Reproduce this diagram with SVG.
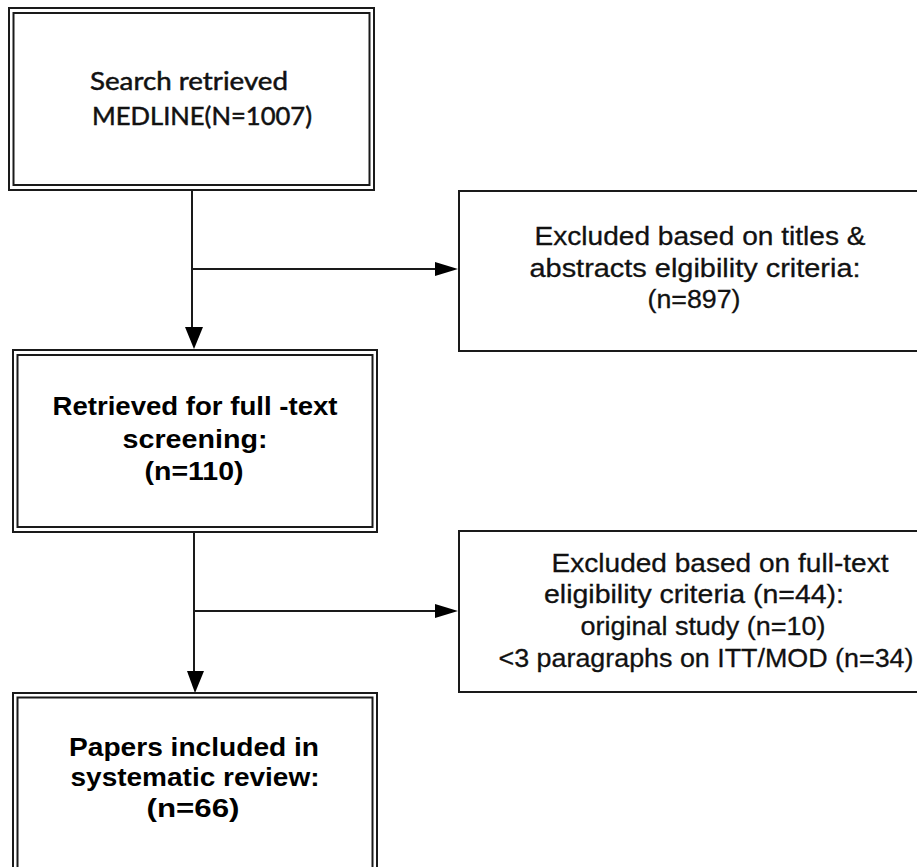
<svg xmlns="http://www.w3.org/2000/svg" width="917" height="867" viewBox="0 0 917 867">
<style>
.bx{fill:none;stroke:#1a1a1a;stroke-width:2}
.ln{fill:none;stroke:#1a1a1a;stroke-width:2}
.ah{fill:#000;stroke:none}
.t1{font-family:Lato,"Open Sans","Liberation Sans",sans-serif;font-size:25px;fill:#111;stroke:#111;stroke-width:0.5;text-anchor:middle}
.tb{font-family:"Liberation Sans",Arial,sans-serif;font-size:25px;font-weight:bold;fill:#000;text-anchor:middle}
.tr{font-family:"Liberation Sans",Arial,sans-serif;font-size:26px;fill:#111;stroke:#111;stroke-width:0.3;text-anchor:middle}
</style>
<rect width="917" height="867" fill="#fff"/>
<g id="connectors">
<path class="ln" d="M192 190 V328"/>
<path class="ah" d="M185 327 L203 327 L194 349 Z"/>
<path class="ln" d="M192 269 H437"/>
<path class="ah" d="M435 262 L458 269 L435 276 Z"/>
<path class="ln" d="M194 532 V672"/>
<path class="ah" d="M187 671 L204 671 L195 693 Z"/>
<path class="ln" d="M194 611 H437"/>
<path class="ah" d="M435 604 L458 611 L435 618 Z"/>
</g>
<g id="search">
<rect class="bx" x="9" y="8" width="365" height="182"/>
<rect class="bx" x="13.5" y="13" width="356" height="172"/>
<text class="t1" x="189" y="90" textLength="198" lengthAdjust="spacingAndGlyphs">Search retrieved</text>
<text class="t1" x="202" y="125" textLength="220" lengthAdjust="spacingAndGlyphs">MEDLINE(N=1007)</text>
</g>
<g id="excluded1">
<rect class="bx" x="459" y="191" width="480" height="160"/>
<text class="tr" x="700" y="245" textLength="331" lengthAdjust="spacingAndGlyphs">Excluded based on titles &amp;</text>
<text class="tr" x="695" y="277" textLength="331" lengthAdjust="spacingAndGlyphs">abstracts elgibility criteria:</text>
<text class="tr" x="694" y="308" textLength="93" lengthAdjust="spacingAndGlyphs">(n=897)</text>
</g>
<g id="fulltext">
<rect class="bx" x="13" y="350" width="364" height="182"/>
<rect class="bx" x="17.5" y="355" width="355" height="172"/>
<text class="tb" x="195" y="415" textLength="285" lengthAdjust="spacingAndGlyphs">Retrieved for full -text</text>
<text class="tb" x="195" y="448" textLength="145" lengthAdjust="spacingAndGlyphs">screening:</text>
<text class="tb" x="194" y="480" textLength="99" lengthAdjust="spacingAndGlyphs">(n=110)</text>
</g>
<g id="excluded2">
<rect class="bx" x="459" y="531" width="480" height="161"/>
<text class="tr" x="720" y="572" textLength="337" lengthAdjust="spacingAndGlyphs">Excluded based on full-text</text>
<text class="tr" x="694" y="603" textLength="300" lengthAdjust="spacingAndGlyphs">eligibility criteria (n=44):</text>
<text class="tr" x="703" y="635" textLength="245" lengthAdjust="spacingAndGlyphs">original study (n=10)</text>
<text class="tr" x="706" y="667" textLength="415" lengthAdjust="spacingAndGlyphs">&lt;3 paragraphs on ITT/MOD (n=34)</text>
</g>
<g id="included">
<rect class="bx" x="13" y="693" width="364" height="190"/>
<rect class="bx" x="17.5" y="697.5" width="355" height="180"/>
<text class="tb" x="194" y="756" textLength="250" lengthAdjust="spacingAndGlyphs">Papers included in</text>
<text class="tb" x="195" y="786" textLength="249" lengthAdjust="spacingAndGlyphs">systematic review:</text>
<text class="tb" x="193" y="817" textLength="93" lengthAdjust="spacingAndGlyphs">(n=66)</text>
</g>
</svg>
